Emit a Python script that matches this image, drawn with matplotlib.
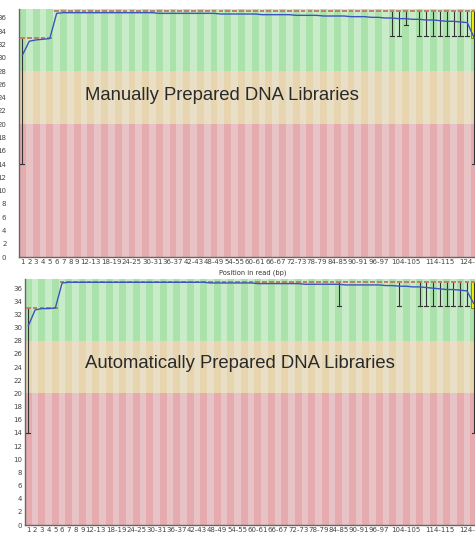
import numpy as np
import matplotlib.pyplot as plt

# bins: 1..9 single bases, then pairs 10-11 .. 124-125
bin_labels = [str(i) for i in range(1, 10)] + ["%d-%d" % (s, s + 1) for s in range(10, 126, 2)]
shown_ticks = list(range(9)) + list(range(10, 53, 3)) + [56, 61, 66]

# mean quality (blue line)
top_mean = [30.4, 32.5, 32.7, 32.8, 32.9,
            36.7, 36.8, 36.8, 36.8, 36.8, 36.8, 36.8, 36.8, 36.8, 36.8,
            36.8, 36.8, 36.8, 36.8, 36.8, 36.7, 36.7, 36.7, 36.7, 36.7,
            36.7, 36.7, 36.7, 36.7, 36.6, 36.6, 36.6, 36.6, 36.6, 36.6,
            36.5, 36.5, 36.5, 36.5, 36.5, 36.4, 36.4, 36.4, 36.4, 36.3,
            36.3, 36.3, 36.3, 36.2, 36.2, 36.2, 36.1, 36.1, 36.0, 36.0,
            35.9, 35.9, 35.8, 35.8, 35.7, 35.7, 35.6, 35.5, 35.5, 35.4,
            35.3, 33.0]
bot_mean = [30.3, 32.7, 32.9, 32.9, 33.0,
            36.8, 36.9, 36.9, 36.9, 36.9, 36.9, 36.9, 36.9, 36.9, 36.9,
            36.9, 36.9, 36.9, 36.9, 36.9, 36.9, 36.9, 36.9, 36.9, 36.9,
            36.9, 36.9, 36.8, 36.8, 36.8, 36.8, 36.8, 36.8, 36.8, 36.7,
            36.7, 36.7, 36.7, 36.7, 36.7, 36.7, 36.6, 36.6, 36.6, 36.6,
            36.6, 36.6, 36.5, 36.5, 36.5, 36.5, 36.5, 36.5, 36.4, 36.4,
            36.3, 36.3, 36.2, 36.2, 36.1, 36.0, 35.9, 35.8, 35.8, 35.7,
            35.6, 33.7]

# median per bin
median = [33] * 5 + [37] * 62

# lower quartile (box drawn only where it differs from median)
top_q25 = [33] * 5 + [37] * 61 + [33]
bot_q25 = [33] * 5 + [37] * 61 + [33]

# 10th percentile (lower whisker)
top_p10 = [14, 33, 33, 33, 33] + [37] * 49 + [33.3, 33.3, 35, 37] + [33.3] * 8 + [14]
bot_p10 = ([14, 33, 33, 33, 33] + [37] * 41 + [33.3] + [37] * 8 + [33.3, 37, 37]
           + [33.3] * 8 + [14])

titles = ["Manually Prepared DNA Libraries", "Automatically Prepared DNA Libraries"]

W, H = 475, 537
fig = plt.figure(figsize=(W / 100, H / 100), dpi=100)

ax_top = fig.add_axes([19 / W, (H - 257) / H, (477.6 - 19) / W, (257 - 8.7) / H])
ax_bot = fig.add_axes([25 / W, (H - 525) / H, (477 - 25) / W, (525 - 279) / H])

bands = [(0, 20, "#e5abaf", "#e8c3c6"),
         (20, 28, "#e6d5ae", "#e9dec6"),
         (28, 40, "#abe2ab", "#c8ebc8")]

n = len(bin_labels)
x = np.arange(n)


def draw(ax, mean, q25, p10, ypad):
    for lo, hi, c1, c2 in bands:
        cols = [c1 if i % 2 == 0 else c2 for i in x]
        ax.bar(x, hi - lo, width=1.0, bottom=lo, color=cols, linewidth=0)
    for i in x:
        # quartile box
        if q25[i] < median[i] or (i == n - 1):
            ax.bar(i, 37 - q25[i], width=0.8, bottom=q25[i], color="#f0f000",
                   edgecolor="#606000", linewidth=0.5, zorder=2)
        # whisker down to 10th percentile
        if p10[i] < median[i]:
            top = median[i] if i == 0 else 37
            ax.plot([i, i], [p10[i], top], color="#333333", lw=0.8, zorder=3)
            ax.plot([i - 0.3, i + 0.3], [p10[i], p10[i]], color="#333333", lw=0.8, zorder=3)
        # median dash
        ax.plot([i - 0.35, i + 0.35], [median[i], median[i]], color="#c08068",
                lw=1.4, zorder=3, solid_capstyle="butt")
    ax.plot(x, mean, color="#3a55c0", lw=1.0, zorder=4)

    ax.set_xlim(-0.5, n - 0.5)
    ax.set_ylim(0, 37.4)
    ax.set_yticks(range(0, 37, 2))
    ax.set_xticks(shown_ticks)
    ax.set_xticklabels([bin_labels[i] for i in shown_ticks])
    ax.tick_params(axis="both", length=0, labelsize=5, colors="#444444")
    ax.tick_params(axis="x", pad=1.5)
    ax.tick_params(axis="y", pad=ypad)
    for s in ["top", "right"]:
        ax.spines[s].set_visible(False)
    for s in ["left", "bottom"]:
        ax.spines[s].set_color("#666666")
        ax.spines[s].set_linewidth(1.0)


draw(ax_top, top_mean, top_q25, top_p10, 9.0)
draw(ax_bot, bot_mean, bot_q25, bot_p10, 2.2)

fig.text(253 / W, 1 - 273 / H, "Position in read (bp)", ha="center", va="center",
         fontsize=4.8, color="#333333")

fig.text(85 / W, 1 - 100 / H, titles[0], ha="left", va="baseline",
         fontsize=13.3, family="Liberation Sans", color="#2a2a2a")
fig.text(85 / W, 1 - 368 / H, titles[1], ha="left", va="baseline",
         fontsize=13.3, family="Liberation Sans", color="#2a2a2a")

fig.savefig("out.png", dpi=100)
